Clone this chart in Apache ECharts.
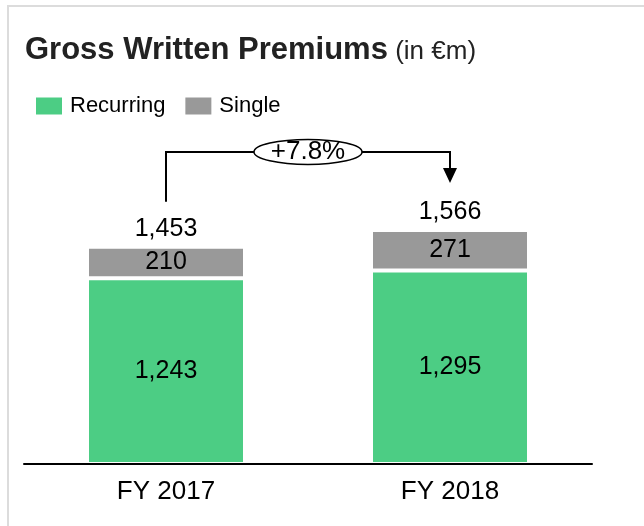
<!DOCTYPE html>
<html>
<head>
<meta charset="utf-8">
<script src="https://cdn.jsdelivr.net/npm/echarts@6/dist/echarts.min.js"></script>
<style>
html, body { margin: 0; padding: 0; background: #fff; }
#main { width: 644px; height: 526px; }
</style>
</head>
<body>
<div id="main"></div>
<script>
// data
var years = ['FY 2017', 'FY 2018'];
var recurring = [1243, 1295];
var single = [210, 271];
var totals = [1453, 1566];
var growth = '+7.8%';

var font = '"Liberation Sans", Arial, sans-serif';
var fmt = function (v) { return Number(v).toLocaleString('en-US'); };

var chart = echarts.init(document.getElementById('main'));

chart.setOption({
  backgroundColor: '#fff',
  animation: false,
  textStyle: { fontFamily: font },
  title: {
    left: 20,
    top: 25,
    text: '{b|Gross Written Premiums}{s| (in €m)}',
    textStyle: {
      rich: {
        b: { fontFamily: font, fontSize: 31, fontWeight: 'bold', color: '#222', verticalAlign: 'bottom', lineHeight: 36 },
        s: { fontFamily: font, fontSize: 26, fontWeight: 'normal', color: '#222', verticalAlign: 'bottom', lineHeight: 36, padding: [0, 0, 1, 0] }
      }
    }
  },
  legend: {
    left: 29,
    top: 90,
    data: ['Recurring', 'Single'],
    icon: 'rect',
    itemWidth: 28,
    itemHeight: 19,
    itemGap: 18,
    textStyle: { fontFamily: font, fontSize: 22, color: '#000', padding: [0, 0, 0, 2] }
  },
  grid: { left: 24, right: 52, top: 168, bottom: 62 },
  xAxis: {
    type: 'category',
    data: years,
    z: 5,
    axisLine: { lineStyle: { color: '#000', width: 2 } },
    axisTick: { show: false },
    axisLabel: { color: '#000', fontSize: 26, margin: 15, fontFamily: font }
  },
  yAxis: { type: 'value', min: 0, max: 1980, show: false },
  series: [
    {
      name: 'Recurring',
      type: 'bar',
      stack: 'gwp',
      barWidth: 158,
      data: recurring,
      itemStyle: { color: '#4ccd84', borderColor: '#fff', borderWidth: 2 },
      label: { show: true, position: 'inside', color: '#000', fontSize: 25, fontFamily: font, formatter: function (p) { return fmt(p.value); } }
    },
    {
      name: 'Single',
      type: 'bar',
      stack: 'gwp',
      barWidth: 158,
      data: single,
      itemStyle: { color: '#999999', borderColor: '#fff', borderWidth: 2 },
      label: { show: true, position: 'inside', color: '#000', fontSize: 25, fontFamily: font, formatter: function (p) { return fmt(p.value); } }
    },
    {
      name: 'Total',
      type: 'bar',
      barWidth: 158,
      barGap: '-100%',
      silent: true,
      z: 1,
      data: totals,
      itemStyle: { color: 'rgba(0,0,0,0)' },
      label: { show: true, position: 'top', distance: 5, color: '#000', fontSize: 25, fontFamily: font, formatter: function (p) { return fmt(p.value); } }
    }
  ]
});

// growth bracket, placed from the total bars
var a = chart.convertToPixel({ seriesIndex: 2 }, [0, totals[0]]);
var b = chart.convertToPixel({ seriesIndex: 2 }, [1, totals[1]]);
var topY = b[1] - 78;
var tipY = b[1] - 47;
var midX = (a[0] + b[0]) / 2;

chart.setOption({
  graphic: [
    {
      type: 'rect',
      z: -1,
      silent: true,
      shape: { x: 8, y: 6, width: 700, height: 600 },
      style: { fill: 'none', stroke: '#dcdcdc', lineWidth: 2 }
    },
    {
      type: 'polyline',
      z: 10,
      shape: { points: [[a[0], a[1] - 45], [a[0], topY], [b[0], topY], [b[0], tipY - 14]] },
      style: { stroke: '#000', lineWidth: 2, fill: 'none' }
    },
    {
      type: 'polygon',
      z: 10,
      shape: { points: [[b[0] - 7, tipY - 15], [b[0] + 7, tipY - 15], [b[0], tipY]] },
      style: { fill: '#000' }
    },
    {
      type: 'ellipse',
      z: 11,
      shape: { cx: midX, cy: topY, rx: 54, ry: 12.5 },
      style: { fill: '#fff', stroke: '#000', lineWidth: 1.5 }
    },
    {
      type: 'text',
      z: 12,
      x: midX,
      y: topY,
      style: { text: growth, fill: '#000', font: '26px ' + font, align: 'center', verticalAlign: 'middle' }
    }
  ]
});
</script>
</body>
</html>
